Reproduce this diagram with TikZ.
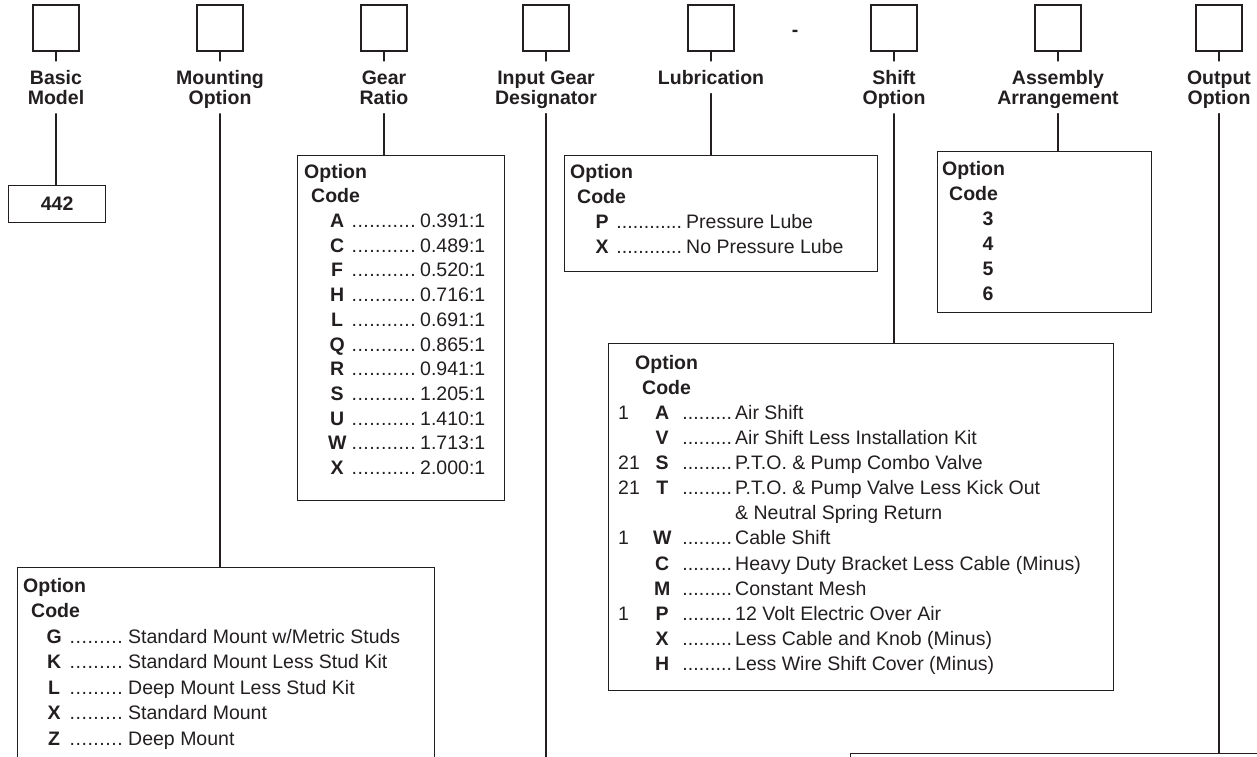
\documentclass[tikz,border=0pt]{standalone}
\usepackage{fontspec}
\setmainfont{Liberation Sans}
\usepackage{array}
\usetikzlibrary{positioning}

\definecolor{ink}{HTML}{231F20}

\newcommand{\lblfont}{\fontsize{19.5}{20}\selectfont\bfseries}
\newcommand{\listfont}[1]{\fontsize{19.5}{#1}\selectfont}
\newcommand{\lbltext}[2]{\begin{tabular}[b]{@{}c@{}}#1\\#2\end{tabular}}
\newcommand{\leaderdots}[1]{\makebox[#1]{\xleaders\hbox{.}\hfill}}

\begin{document}
\begin{tikzpicture}[
    x=1pt, y=-1pt,
    line cap=round,
    every node/.style={text=ink},
    slot/.style={draw=ink, line width=2.1pt, minimum size=46pt, inner sep=0pt},
    lbl/.style={font=\lblfont, inner xsep=0pt, inner ysep=9pt, text depth=0pt},
    wire/.style={draw=ink, line width=1.1pt},
    optframe/.style={draw=ink, line width=1.3pt, inner sep=0pt, anchor=north west},
    opttext/.style={inner sep=0pt, anchor=north west},
    sepmark/.style={font=\lblfont, inner sep=0pt}
]
\useasboundingbox (0,0) rectangle (1257,756);
\clip (0,0) rectangle (1257,756);

% Code slots
\foreach \n/\x in {1/56,2/220,3/384,4/546,5/711,6/894,7/1058,8/1219}
    \node[slot] (slot\n) at (\x,28) {};
\node[sepmark] (sep) at (795,33) {-};

% Slot titles
\node[lbl, below=9pt of slot1] (lbBasic) {\lbltext{Basic}{Model}};
\node[lbl, below=9pt of slot2] (lbMount) {\lbltext{Mounting}{Option}};
\node[lbl, below=9pt of slot3] (lbGear) {\lbltext{Gear}{Ratio}};
\node[lbl, below=9pt of slot4] (lbInput) {\lbltext{Input Gear}{Designator}};
\node[lbl, below=9pt of slot5] (lbLube) {\lbltext{Lubrication}{}};
\node[lbl, below=9pt of slot6] (lbShift) {\lbltext{Shift}{Option}};
\node[lbl, below=9pt of slot7] (lbAssy) {\lbltext{Assembly}{Arrangement}};
\node[lbl, below=9pt of slot8] (lbOut) {\lbltext{Output}{Option}};

\foreach \s/\l in {1/lbBasic,2/lbMount,3/lbGear,4/lbInput,5/lbLube,6/lbShift,7/lbAssy,8/lbOut}
    \draw[wire] (slot\s) -- (\l);

% Basic model
\node[optframe, minimum width=97pt, minimum height=37pt, font=\lblfont] (modelBox) at (8,185) {442};

% Gear ratio
\node[optframe, minimum width=207pt, minimum height=345pt] (gearBox) at (297,155) {};
\node[opttext, font=\listfont{24.7}] (gearTxt) at (304,160.7) {%
  \begin{tabular}{@{\hspace{25pt}}>{\bfseries}wc{16pt}@{\hspace{6pt}}l@{\hspace{4pt}}l@{}}
    \multicolumn{3}{@{}l}{\bfseries Option}\\
    \multicolumn{3}{@{\hspace{7pt}}l}{\bfseries Code}\\
    A & \leaderdots{65pt} & 0.391:1\\
    C & \leaderdots{65pt} & 0.489:1\\
    F & \leaderdots{65pt} & 0.520:1\\
    H & \leaderdots{65pt} & 0.716:1\\
    L & \leaderdots{65pt} & 0.691:1\\
    Q & \leaderdots{65pt} & 0.865:1\\
    R & \leaderdots{65pt} & 0.941:1\\
    S & \leaderdots{65pt} & 1.205:1\\
    U & \leaderdots{65pt} & 1.410:1\\
    W & \leaderdots{65pt} & 1.713:1\\
    X & \leaderdots{65pt} & 2.000:1
  \end{tabular}};

% Lubrication
\node[optframe, minimum width=313pt, minimum height=116pt] (lubeBox) at (564,155) {};
\node[opttext, font=\listfont{25}] (lubeTxt) at (570,160.5) {%
  \begin{tabular}{@{\hspace{24pt}}>{\bfseries}wc{16pt}@{\hspace{6pt}}l@{\hspace{4pt}}l@{}}
    \multicolumn{3}{@{}l}{\bfseries Option}\\
    \multicolumn{3}{@{\hspace{7pt}}l}{\bfseries Code}\\
    P & \leaderdots{66pt} & Pressure Lube\\
    X & \leaderdots{66pt} & No Pressure Lube
  \end{tabular}};

% Assembly arrangement
\node[optframe, minimum width=214pt, minimum height=161pt] (assyBox) at (937,151) {};
\node[opttext, font=\listfont{25}] (assyTxt) at (942,157.5) {%
  \begin{tabular}{@{\hspace{23pt}}>{\bfseries}wc{16pt}@{}}
    \multicolumn{1}{@{}l}{\bfseries Option}\\
    \multicolumn{1}{@{\hspace{7pt}}l}{\bfseries Code}\\
    3\\
    4\\
    5\\
    6
  \end{tabular}};

% Shift option
\node[optframe, minimum width=505pt, minimum height=347pt] (shiftBox) at (608,343) {};
\node[opttext, font=\listfont{25.1}] (shiftTxt) at (618,351.5) {%
  \begin{tabular}{@{}wl{22pt}@{\hspace{14pt}}>{\bfseries}wc{16pt}@{\hspace{12pt}}l@{\hspace{3pt}}l@{}}
    \multicolumn{4}{@{\hspace{17pt}}l}{\bfseries Option}\\
    \multicolumn{4}{@{\hspace{24pt}}l}{\bfseries Code}\\
    1  & A & \leaderdots{50pt} & Air Shift\\
       & V & \leaderdots{50pt} & Air Shift Less Installation Kit\\
    21 & S & \leaderdots{50pt} & P.T.O. \& Pump Combo Valve\\
    21 & T & \leaderdots{50pt} & P.T.O. \& Pump Valve Less Kick Out\\
       &   &                   & \& Neutral Spring Return\\
    1  & W & \leaderdots{50pt} & Cable Shift\\
       & C & \leaderdots{50pt} & Heavy Duty Bracket Less Cable (Minus)\\
       & M & \leaderdots{50pt} & Constant Mesh\\
    1  & P & \leaderdots{50pt} & 12 Volt Electric Over Air\\
       & X & \leaderdots{50pt} & Less Cable and Knob (Minus)\\
       & H & \leaderdots{50pt} & Less Wire Shift Cover (Minus)
  \end{tabular}};

% Mounting option
\node[optframe, minimum width=417pt, minimum height=220pt] (mountBox) at (17,567) {};
\node[opttext, font=\listfont{25.5}] (mountTxt) at (23,574.2) {%
  \begin{tabular}{@{\hspace{23pt}}>{\bfseries}wc{16pt}@{\hspace{7pt}}l@{\hspace{5pt}}l@{}}
    \multicolumn{3}{@{}l}{\bfseries Option}\\
    \multicolumn{3}{@{\hspace{8pt}}l}{\bfseries Code}\\
    G & \leaderdots{54pt} & Standard Mount w/Metric Studs\\
    K & \leaderdots{54pt} & Standard Mount Less Stud Kit\\
    L & \leaderdots{54pt} & Deep Mount Less Stud Kit\\
    X & \leaderdots{54pt} & Standard Mount\\
    Z & \leaderdots{54pt} & Deep Mount
  \end{tabular}};

% Output option
\node[optframe, minimum width=450pt, minimum height=60pt] (outBox) at (850,753) {};

% Title to box
\coordinate (pageEnd) at (546,775);
\draw[wire] (lbBasic.south) -- (lbBasic.south |- modelBox.north);
\draw[wire] (lbMount.south) -- (lbMount.south |- mountBox.north);
\draw[wire] (lbGear.south) -- (lbGear.south |- gearBox.north);
\draw[wire] (lbInput.south) -- (lbInput.south |- pageEnd);
\draw[wire] (lbLube.south) -- (lbLube.south |- lubeBox.north);
\draw[wire] (lbShift.south) -- (lbShift.south |- shiftBox.north);
\draw[wire] (lbAssy.south) -- (lbAssy.south |- assyBox.north);
\draw[wire] (lbOut.south) -- (lbOut.south |- outBox.north);

\end{tikzpicture}
\end{document}
